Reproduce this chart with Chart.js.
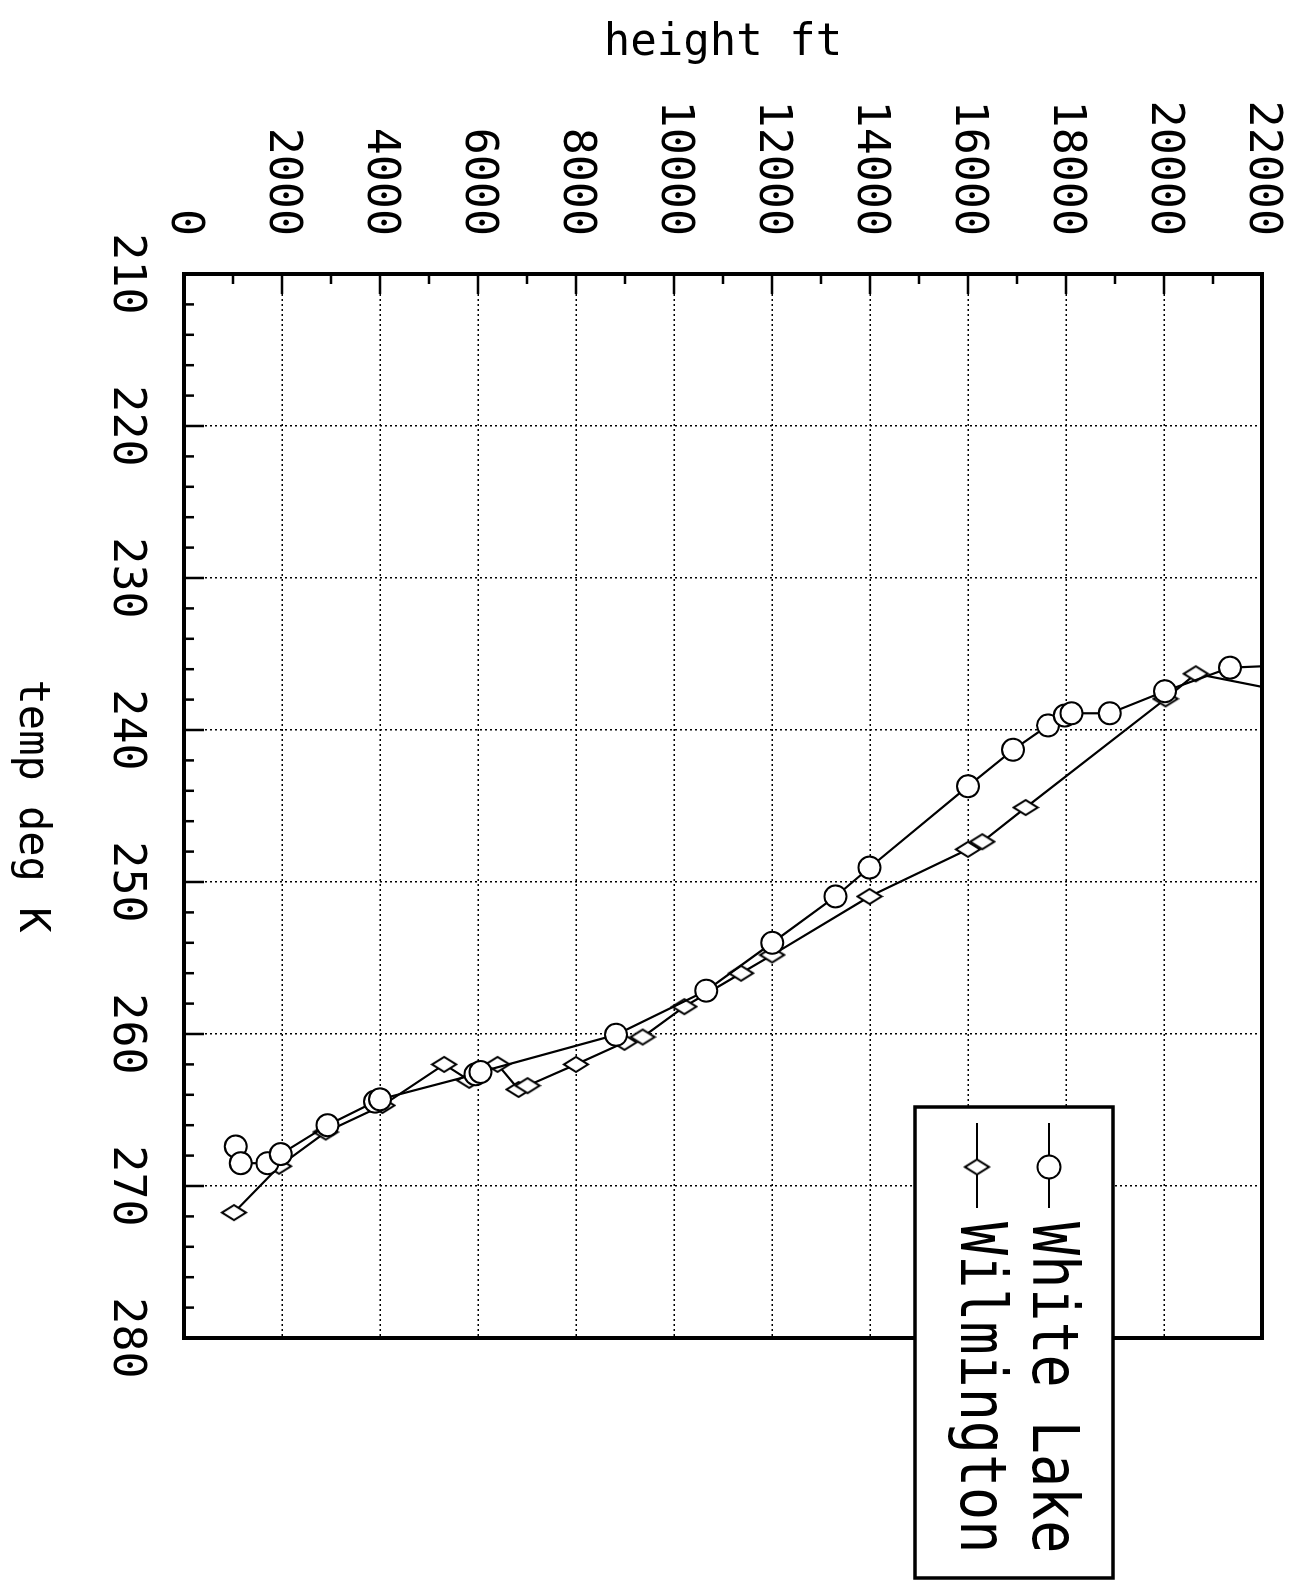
<!DOCTYPE html>
<html lang="en">

<head>
  <meta charset="UTF-8" />
  <title>temp deg K vs height ft</title>
  <script src="https://cdn.jsdelivr.net/npm/chart.js"></script>
  <style>
    html, body { margin: 0; padding: 0; background: #fff; overflow: hidden; }
    /* plot is drawn in landscape and turned a quarter turn clockwise, like the plotter page */
    #wrap {
      position: absolute; left: 0; top: 0;
      width: 1585px; height: 1297px;
      transform-origin: 0 0;
      transform: translateX(1297px) rotate(90deg);
    }
  </style>
</head>

<body>
  <div id="wrap"><canvas id="chart" width="1585" height="1297"></canvas></div>

  <script>
    const tempTicks = [210, 220, 230, 240, 250, 260, 270, 280];
    const heightTicks = [0, 2000, 4000, 6000, 8000, 10000, 12000, 14000, 16000, 18000, 20000, 22000];
    const seriesNames = ['White Lake', 'Wilmington'];

    const whiteLakeHeight = [1056, 1158, 1702, 1975, 2928, 3900, 4000, 5950, 6050, 8818, 10657, 12005,
      13298, 13992, 16000, 16920, 17635, 17976, 18113, 18895, 20018, 21346, 23500];
    const whiteLakeTemp = [267.4, 268.5, 268.5, 267.9, 266.0, 264.45, 264.3, 262.65, 262.5, 260.05, 257.15, 254.0,
      250.95, 249.05, 243.7, 241.3, 239.7, 239.05, 238.9, 238.9, 237.45, 235.9, 235.6];

    const wilmingtonHeight = [1021, 1941, 2894, 4051, 5311, 5822, 6400, 6830, 7012, 8001, 8990, 9362, 10213,
      11370, 12005, 13992, 16000, 16293, 17178, 20032, 20650, 23000];
    const wilmingtonTemp = [271.75, 268.7, 266.45, 264.7, 262.0, 263.05, 262.0, 263.65, 263.4, 262.0, 260.55, 260.2, 258.2,
      256.0, 254.8, 250.95, 247.85, 247.35, 245.1, 237.95, 236.3, 237.8];

    const FONT = "'DejaVu Sans Mono', monospace";

    function toPoints(heights, temps) {
      return heights.map((h, i) => ({ x: temps[i], y: h }));
    }

    // flattened diamond marker
    function diamondImage() {
      const c = document.createElement('canvas');
      c.width = 19; c.height = 28;
      const g = c.getContext('2d');
      g.beginPath();
      g.moveTo(9.5, 2); g.lineTo(17, 14); g.lineTo(9.5, 26); g.lineTo(2, 14); g.closePath();
      g.fillStyle = '#fff'; g.fill();
      g.lineWidth = 2; g.strokeStyle = '#000'; g.stroke();
      return c;
    }
    const diamond = diamondImage();

    const framePlugin = {
      id: 'frame',
      afterDatasetsDraw(chart) {
        const { ctx, chartArea: a, scales: { x, y } } = chart;
        ctx.save();
        ctx.strokeStyle = '#000';
        ctx.lineCap = 'butt';
        ctx.lineWidth = 2.5;
        ctx.beginPath();
        for (let t = x.min; t <= x.max; t += 2) {
          const px = x.getPixelForValue(t);
          const len = t % 10 === 0 ? 20 : 10;
          ctx.moveTo(px, a.bottom); ctx.lineTo(px, a.bottom - len);
        }
        for (let h = y.min; h <= y.max; h += 1000) {
          const py = y.getPixelForValue(h);
          const len = h % 2000 === 0 ? 20 : 10;
          ctx.moveTo(a.left, py); ctx.lineTo(a.left + len, py);
        }
        ctx.stroke();
        ctx.lineWidth = 4;
        ctx.strokeRect(a.left, a.top, a.right - a.left, a.bottom - a.top);
        ctx.restore();
      }
    };

    const legendPlugin = {
      id: 'boxLegend',
      afterDraw(chart) {
        const { ctx } = chart;
        const box = { left: 1107, top: 184, right: 1578, bottom: 382 };
        const rows = [248, 320];
        ctx.save();
        ctx.fillStyle = '#fff';
        ctx.fillRect(box.left, box.top, box.right - box.left, box.bottom - box.top);
        ctx.lineWidth = 3.5;
        ctx.strokeStyle = '#000';
        ctx.strokeRect(box.left, box.top, box.right - box.left, box.bottom - box.top);

        chart.data.datasets.forEach((ds, i) => {
          const yy = rows[i];
          ctx.lineWidth = 2;
          ctx.beginPath();
          ctx.moveTo(1123, yy); ctx.lineTo(1208, yy);
          ctx.stroke();
          if (ds.pointStyle === 'circle') {
            ctx.beginPath();
            ctx.arc(1167, yy, 11.5, 0, Math.PI * 2);
            ctx.fillStyle = '#fff'; ctx.fill();
            ctx.stroke();
          } else {
            ctx.drawImage(ds.pointStyle, 1167 - ds.pointStyle.width / 2, yy - ds.pointStyle.height / 2);
          }
          ctx.save();
          ctx.translate(1222, yy + 16);
          ctx.scale(0.86, 1);
          ctx.fillStyle = '#000';
          ctx.font = '64px ' + FONT;
          ctx.textBaseline = 'alphabetic';
          ctx.fillText(ds.label, 0, 0);
          ctx.restore();
        });
        ctx.restore();
      }
    };

    new Chart(document.getElementById('chart'), {
      type: 'scatter',
      data: {
        datasets: [
          {
            label: seriesNames[0],
            data: toPoints(whiteLakeHeight, whiteLakeTemp),
            showLine: true,
            borderColor: '#000',
            borderWidth: 2.2,
            pointStyle: 'circle',
            pointRadius: 11,
            pointBorderWidth: 2,
            pointBackgroundColor: '#fff',
            pointBorderColor: '#000'
          },
          {
            label: seriesNames[1],
            data: toPoints(wilmingtonHeight, wilmingtonTemp),
            showLine: true,
            borderColor: '#000',
            borderWidth: 2.2,
            pointStyle: diamond,
            pointRadius: 11,
            pointBorderColor: '#000',
            pointBackgroundColor: '#fff'
          }
        ]
      },
      options: {
        responsive: false,
        animation: false,
        layout: { padding: { left: 0, top: 35, right: 247, bottom: 0 } },
        plugins: {
          legend: { display: false },
          tooltip: { enabled: false }
        },
        scales: {
          x: {
            type: 'linear',
            position: 'bottom',
            min: 210,
            max: 280,
            afterBuildTicks: s => { s.ticks = tempTicks.map(v => ({ value: v })); },
            afterFit: s => { s.height = 184; s.paddingLeft = 0; s.paddingRight = 0; },
            ticks: {
              color: '#000', font: { family: FONT, size: 45 }, padding: 31,
              maxRotation: 0, minRotation: 0, autoSkip: false,
              callback: v => String(v)
            },
            grid: { color: '#000', lineWidth: 1.5, drawTicks: false },
            border: { display: false, dash: [2, 3] },
            title: {
              display: true, text: 'temp deg K', color: '#000',
              font: { family: FONT, size: 42 }, padding: { top: 6, bottom: 6 }
            }
          },
          y: {
            type: 'linear',
            position: 'left',
            min: 0,
            max: 22000,
            afterBuildTicks: s => { s.ticks = heightTicks.map(v => ({ value: v })); },
            afterFit: s => { s.width = 274; s.paddingTop = 0; s.paddingBottom = 0; },
            ticks: {
              color: '#000', font: { family: FONT, size: 45 }, padding: 38,
              autoSkip: false,
              callback: v => String(v)
            },
            grid: { color: '#000', lineWidth: 1.5, drawTicks: false },
            border: { display: false, dash: [2, 3] },
            title: {
              display: true, text: 'height ft', color: '#000',
              font: { family: FONT, size: 44 }, padding: { top: 17, bottom: 17 }
            }
          }
        }
      },
      plugins: [framePlugin, legendPlugin]
    });
  </script>
</body>

</html>
